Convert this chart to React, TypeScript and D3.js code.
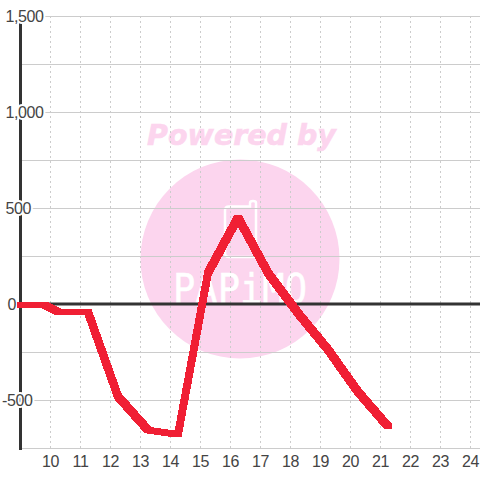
import React from "react";
import * as d3 from "d3";

const hours = [9, 9.75, 10.25, 11.25, 12.25, 13.25, 14.25, 15.25, 16.25, 17.25, 18.25, 19.25, 20.25, 21.25];
const values = [0, 0, -39, -39, -479, -654, -677, 165, 453, 165, -45, -235, -455, -635];
const xTicks = [10, 11, 12, 13, 14, 15, 16, 17, 18, 19, 20, 21, 22, 23, 24];
const yLabelled = [1500, 1000, 500, 0, -500];
const yGrid = [1500, 1250, 1000, 750, 500, 250, -250, -500, -750];

const x = d3.scaleLinear().domain([9, 24]).range([20.5, 470.5]);
const y = d3.scaleLinear().domain([1500, -750]).range([16.5, 448.5]);

const font = "'Liberation Sans', Arial, sans-serif";
const PINK = "#fcd5ee";
const PEN_X = 3.5;
const PEN_Y = 3;

// Line is drawn with a rectangular pen: each segment is the sweep of the pen along it.
const points: [number, number][] = hours.map((h, i) => [x(h), y(values[i])]);
const segments = d3.pairs(points).map(([a, b]) => {
  const corners: [number, number][] = [];
  [a, b].forEach(([px, py]) => {
    [[-PEN_X, -PEN_Y], [PEN_X, -PEN_Y], [PEN_X, PEN_Y], [-PEN_X, PEN_Y]].forEach(([dx, dy]) => corners.push([px + dx, py + dy]));
  });
  return d3.polygonHull(corners) as [number, number][];
});
const polyPath = d3.line().curve(d3.curveLinearClosed);

const labelX = (v: number) => (v === -500 ? 2 : v === 0 ? 7.5 : 5.5);
const fmt = (v: number) => d3.format(",")(v).replace("\u2212", "-");

export default function App() {
  return (
    <svg width={480} height={480} style={{ position: "absolute", left: 0, top: 0, background: "#fff" }}>
      <text x={241.5} y={145} textAnchor="middle" fontFamily="'DejaVu Sans'" fontWeight="bold" fontStyle="italic" fontSize={28.5} fill={PINK} stroke={PINK} strokeWidth={0.6}>Powered by</text>
      <circle cx={240} cy={259} r={99.5} fill={PINK} />
      <path d="M250 206.5 H229 Q225 206.5 225 210.5 V253 Q225 257 229 257 H252 Q256 257 256 253 V203 Q256 201 253 201 Q250 201 250 203 Z" fill="none" stroke="#fff" strokeWidth={2.5} />
      <text x={240} y={303} textAnchor="middle" fontFamily="'DejaVu Sans Mono'" fontSize={41} fill="#fff" stroke="#fff" strokeWidth={0.5} textLength={134} lengthAdjust="spacingAndGlyphs">PAPiMO</text>
      {xTicks.map((t) => (
        <line key={t} x1={x(t)} x2={x(t)} y1={16} y2={448} stroke="#ccc" strokeWidth={1} strokeDasharray="2 3" />
      ))}
      {yGrid.map((v) => (
        <line key={v} x1={22} x2={480} y1={y(v)} y2={y(v)} stroke="#ccc" strokeWidth={1} />
      ))}
      <line x1={20.5} x2={20.5} y1={16} y2={450} stroke="#333" strokeWidth={3} />
      <line x1={20} x2={480} y1={304} y2={304} stroke="#333" strokeWidth={3} />
      {yLabelled.map((v) => (
        <text key={v} x={labelX(v)} y={y(v) + 5.5} fontFamily={font} fontSize={16} letterSpacing={-0.4} fill="#444" stroke="#fff" strokeWidth={v === 0 ? 0 : 4} paintOrder="stroke">
          {fmt(v)}
        </text>
      ))}
      {xTicks.map((t) => (
        <text key={t} x={x(t)} y={467} textAnchor="middle" fontFamily={font} fontSize={16} letterSpacing={-0.4} fill="#444">{t}</text>
      ))}
      <g fill="#f01f34" shapeRendering="crispEdges">
        {segments.map((s, i) => (
          <path key={i} d={polyPath(s) ?? ""} />
        ))}
      </g>
    </svg>
  );
}
